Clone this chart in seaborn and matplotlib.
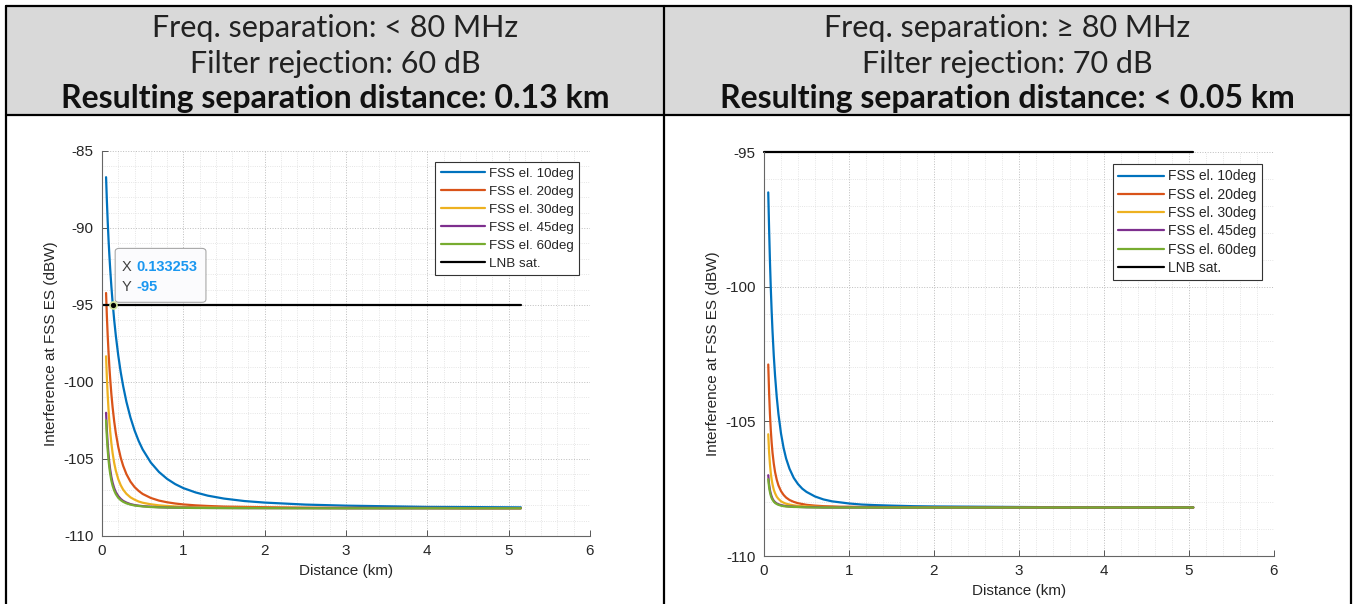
import matplotlib
matplotlib.use("Agg")
import matplotlib.pyplot as plt
from matplotlib.lines import Line2D
from matplotlib.patches import Rectangle, FancyBboxPatch
from matplotlib.ticker import MultipleLocator
import seaborn as sns

# values
dist_left = [0.05, 0.06, 0.07, 0.08, 0.09, 0.1, 0.115, 0.13, 0.15, 0.17, 0.2, 0.23, 0.26, 0.3, 0.35, 0.4, 0.45,
             0.5, 0.6, 0.7, 0.8, 0.9, 1.0, 1.15, 1.3, 1.5, 1.75, 2.0, 2.5, 3.0, 3.5, 4.0, 4.5, 5.15]
left_el10 = [-86.7, -88.24, -89.57, -90.71, -91.71, -92.6, -93.78, -94.8, -95.98, -96.99, -98.28, -99.36, -100.26,
             -101.28, -102.31, -103.14, -103.82, -104.38, -105.23, -105.84, -106.29, -106.63, -106.89, -107.17,
             -107.38, -107.57, -107.73, -107.83, -107.96, -108.03, -108.07, -108.11, -108.12, -108.14]
left_el20 = [-94.22, -95.73, -96.98, -98.04, -98.96, -99.75, -100.77, -101.62, -102.56, -103.32, -104.22, -104.91,
             -105.44, -105.98, -106.47, -106.82, -107.07, -107.27, -107.53, -107.7, -107.81, -107.89, -107.95,
             -108.01, -108.05, -108.09, -108.11, -108.13, -108.16, -108.17, -108.18, -108.18, -108.19, -108.19]
left_el30 = [-98.33, -99.72, -100.84, -101.76, -102.53, -103.18, -103.97, -104.6, -105.26, -105.76, -106.31, -106.7,
             -106.99, -107.26, -107.49, -107.64, -107.76, -107.84, -107.94, -108.01, -108.05, -108.08, -108.11,
             -108.13, -108.14, -108.16, -108.17, -108.18, -108.18, -108.19, -108.19, -108.19, -108.2, -108.2]
left_el45 = [-102.0, -103.15, -104.02, -104.7, -105.24, -105.66, -106.16, -106.53, -106.89, -107.15, -107.41, -107.59,
             -107.72, -107.83, -107.93, -107.99, -108.03, -108.06, -108.1, -108.13, -108.15, -108.16, -108.16,
             -108.17, -108.18, -108.18, -108.19, -108.19, -108.19, -108.2, -108.2, -108.2, -108.2, -108.2]
left_el60 = [-102.49, -103.59, -104.42, -105.05, -105.55, -105.94, -106.4, -106.73, -107.05, -107.28, -107.52,
             -107.67, -107.78, -107.88, -107.96, -108.02, -108.05, -108.08, -108.12, -108.14, -108.15, -108.16,
             -108.17, -108.18, -108.18, -108.19, -108.19, -108.19, -108.2, -108.2, -108.2, -108.2, -108.2, -108.2]

dist_right = [0.05, 0.06, 0.07, 0.08, 0.09, 0.1, 0.115, 0.13, 0.15, 0.17, 0.2, 0.23, 0.26, 0.3, 0.35, 0.4, 0.45,
              0.5, 0.6, 0.7, 0.8, 0.9, 1.0, 1.15, 1.3, 1.5, 1.75, 2.0, 2.5, 3.0, 3.5, 4.0, 4.5, 5.05]
right_el10 = [-96.5, -97.86, -99.06, -100.06, -100.91, -101.64, -102.56, -103.3, -104.1, -104.73, -105.45, -105.98,
              -106.38, -106.76, -107.1, -107.33, -107.5, -107.62, -107.79, -107.9, -107.97, -108.01, -108.05,
              -108.09, -108.11, -108.13, -108.15, -108.16, -108.17, -108.18, -108.19, -108.19, -108.19, -108.19]
right_el20 = [-102.89, -103.94, -104.73, -105.33, -105.79, -106.16, -106.57, -106.88, -107.17, -107.38, -107.59,
              -107.73, -107.83, -107.92, -107.99, -108.04, -108.07, -108.1, -108.13, -108.15, -108.16, -108.17,
              -108.17, -108.18, -108.18, -108.19, -108.19, -108.19, -108.2, -108.2, -108.2, -108.2, -108.2, -108.2]
right_el30 = [-105.48, -106.15, -106.6, -106.93, -107.16, -107.34, -107.54, -107.67, -107.8, -107.88, -107.97,
              -108.02, -108.06, -108.09, -108.12, -108.14, -108.15, -108.16, -108.17, -108.18, -108.18, -108.19,
              -108.19, -108.19, -108.2, -108.2, -108.2, -108.2, -108.2, -108.2, -108.2, -108.2, -108.2, -108.2]
right_el45 = [-107.0, -107.34, -107.55, -107.69, -107.79, -107.87, -107.95, -108.0, -108.05, -108.08, -108.11,
              -108.13, -108.15, -108.16, -108.17, -108.18, -108.18, -108.19, -108.19, -108.2, -108.2, -108.2,
              -108.2, -108.2, -108.2, -108.2, -108.2, -108.2, -108.2, -108.2, -108.2, -108.2, -108.2, -108.2]
right_el60 = [-107.15, -107.45, -107.63, -107.76, -107.85, -107.91, -107.98, -108.03, -108.07, -108.1, -108.13,
              -108.15, -108.16, -108.17, -108.18, -108.18, -108.19, -108.19, -108.2, -108.2, -108.2, -108.2,
              -108.2, -108.2, -108.2, -108.2, -108.2, -108.2, -108.2, -108.2, -108.2, -108.2, -108.2, -108.2]

lnb_level = -95
lnb_left = [0, 5.15]
lnb_right = [0, 5.05]
tip_x, tip_y = 0.133253, -95

labels = ["FSS el. 10deg", "FSS el. 20deg", "FSS el. 30deg", "FSS el. 45deg", "FSS el. 60deg", "LNB sat."]
colors = ["#0072BD", "#D95319", "#EDB120", "#7E2F8E", "#77AC30", "#000000"]

header_left = ["Freq. separation: < 80 MHz", "Filter rejection: 60 dB", "Resulting separation distance: 0.13 km"]
header_right = ["Freq. separation: \u2265 80 MHz", "Filter rejection: 70 dB", "Resulting separation distance: < 0.05 km"]

sns.set_theme(style="white")
plt.rcParams["font.family"] = ["Liberation Sans", "DejaVu Sans"]
plt.rcParams["axes.unicode_minus"] = False

W, H = 1358, 604
fig = plt.figure(figsize=(W / 100, H / 100), dpi=100)
fig.patch.set_facecolor("white")


def fx(px):
    return px / W


def fy(py):
    return 1 - py / H


# table header + borders
fig.add_artist(Rectangle((fx(7), fy(114)), fx(1350 - 7), (114 - 7) / H,
                         transform=fig.transFigure, facecolor="#d9d9d9", edgecolor="none", zorder=0))
bl = dict(color="black", lw=1.6, transform=fig.transFigure, zorder=5)
fig.add_artist(Line2D([fx(6), fx(1351)], [fy(6), fy(6)], **bl))
fig.add_artist(Line2D([fx(6), fx(1351)], [fy(115), fy(115)], **bl))
for xb in (6, 664, 1351):
    fig.add_artist(Line2D([fx(xb), fx(xb)], [fy(6), 0], **bl))

hdr_font = ["Lato", "DejaVu Sans"]
for cx, lines in ((335, header_left), (1007.5, header_right)):
    for i, (txt, base) in enumerate(zip(lines, (37, 73, 108))):
        if i == 2:
            fig.text(fx(cx), fy(base), txt, ha="center", va="baseline", fontsize=23,
                     family=hdr_font, weight="bold", color="#111111")
        else:
            fig.text(fx(cx), fy(base), txt, ha="center", va="baseline", fontsize=22,
                     family=hdr_font, weight="normal", color="#222222")


def style_axes(ax, ylim, yticks):
    ax.set_xlim(0, 6)
    ax.set_ylim(*ylim)
    ax.set_xticks(range(0, 7))
    ax.set_yticks(yticks)
    ax.xaxis.set_minor_locator(MultipleLocator(0.2))
    ax.yaxis.set_minor_locator(MultipleLocator(1))
    ax.grid(which="major", ls=":", color="#bdbdbd", lw=0.7)
    ax.grid(which="minor", ls=":", color="#dddddd", lw=0.6)
    ax.set_axisbelow(True)
    for s in ("top", "right"):
        ax.spines[s].set_visible(False)
    for s in ("left", "bottom"):
        ax.spines[s].set_color("#666666")
        ax.spines[s].set_linewidth(0.8)
    ax.tick_params(which="major", direction="in", length=4, width=0.7, color="#555555",
                   labelsize=11, labelcolor="#262626", pad=6, left=True, bottom=True)
    ax.tick_params(which="minor", length=0)
    ax.set_xlabel("Distance (km)", fontsize=11, color="#262626", labelpad=4)
    ax.set_ylabel("Interference at FSS ES (dBW)", fontsize=11, color="#262626", labelpad=4)


def draw(ax, dist, series, lnb_x, fsize, lspace, clip=True):
    for lab, col, vals in zip(labels[:5], colors[:5], series):
        sns.lineplot(x=dist, y=vals, color=col, label=lab, lw=1.6, ax=ax, sort=False)
    sns.lineplot(x=lnb_x, y=[lnb_level] * len(lnb_x), color=colors[5], label=labels[5],
                 lw=1.6, ax=ax, clip_on=clip)
    ax.legend(loc="upper right", fontsize=fsize, frameon=True, fancybox=False, framealpha=1,
              edgecolor="#333333", handlelength=3.3, handletextpad=0.3, labelspacing=lspace,
              borderpad=0.4, borderaxespad=0.85).get_frame().set_linewidth(0.8)


ax1 = fig.add_axes([fx(102), fy(536), fx(590 - 102), (536 - 151) / H])
draw(ax1, dist_left, [left_el10, left_el20, left_el30, left_el45, left_el60], lnb_left, 9.6, 0.42)
style_axes(ax1, (-110, -85), range(-110, -84, 5))

ax2 = fig.add_axes([fx(764), fy(556), fx(1274 - 764), (556 - 152) / H])
draw(ax2, dist_right, [right_el10, right_el20, right_el30, right_el45, right_el60], lnb_right, 10.0, 0.31,
     clip=False)
style_axes(ax2, (-110, -95), range(-110, -94, 5))

# data tip on the left plot
ax1.plot([tip_x], [tip_y], "o", ms=5, mfc="black", mec="#cfe39a", mew=1.2, zorder=10)
ax1.add_patch(FancyBboxPatch((0.027, 0.607), 0.186, 0.14, transform=ax1.transAxes,
                             boxstyle="round,pad=0,rounding_size=0.008",
                             facecolor="#fbfbfd", edgecolor="#a8a8a8", lw=0.8, zorder=9))
ax1.text(0.041, 0.699, "X", transform=ax1.transAxes, fontsize=10.5, color="#404040",
         va="center", zorder=11)
ax1.text(0.07, 0.699, "0.133253", transform=ax1.transAxes, fontsize=10.5, color="#1a97f0",
         weight="bold", va="center", zorder=11)
ax1.text(0.041, 0.647, "Y", transform=ax1.transAxes, fontsize=10.5, color="#404040",
         va="center", zorder=11)
ax1.text(0.07, 0.647, "-95", transform=ax1.transAxes, fontsize=10.5, color="#1a97f0",
         weight="bold", va="center", zorder=11)

fig.savefig("out.png", dpi=100)
